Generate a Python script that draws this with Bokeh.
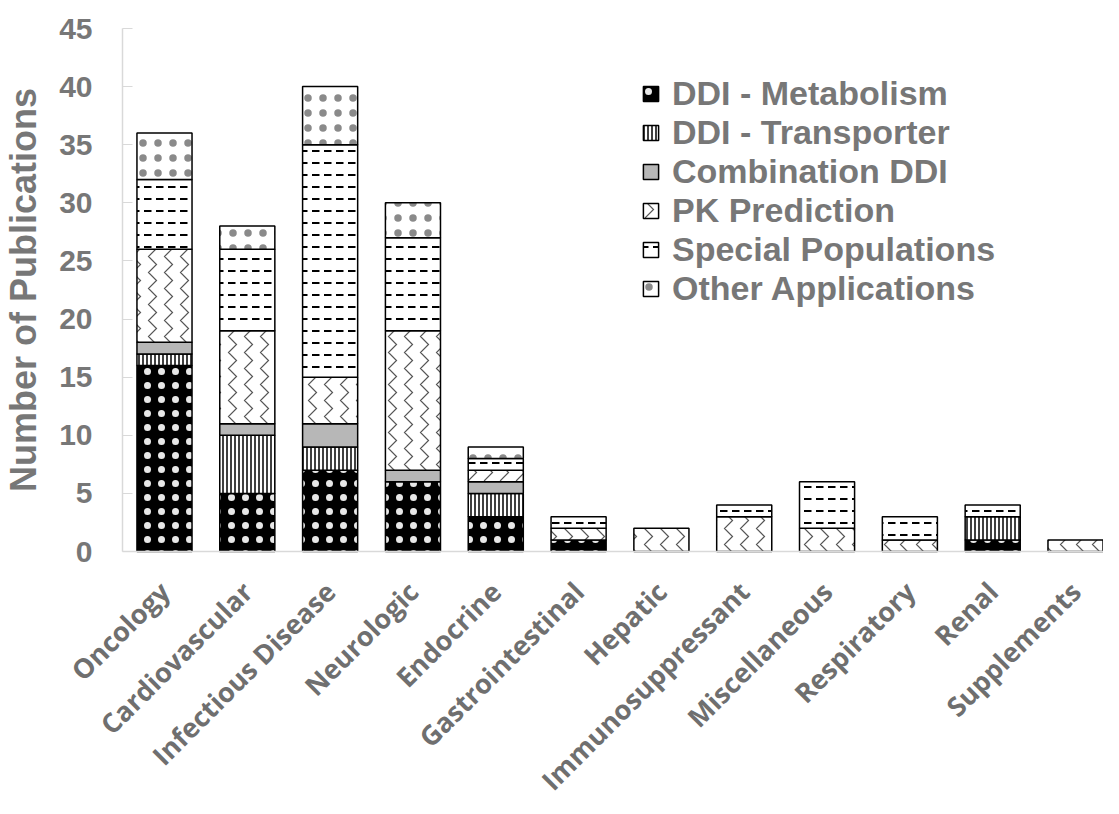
import math
import numpy as np
from bokeh.plotting import figure
from bokeh.models import ColumnDataSource, Legend, LegendItem, FixedTicker, Range1d
from bokeh.embed import file_html
from bokeh.resources import INLINE

categories = ["Oncology", "Cardiovascular", "Infectious Disease", "Neurologic", "Endocrine",
              "Gastrointestinal", "Hepatic", "Immunosuppressant", "Miscellaneous",
              "Respiratory", "Renal", "Supplements"]
series_names = ["DDI - Metabolism", "DDI - Transporter", "Combination DDI",
                "PK Prediction", "Special Populations", "Other Applications"]
ddi_metabolism = [16, 5, 7, 6, 3, 1, 0, 0, 0, 0, 1, 0]
ddi_transporter = [1, 5, 2, 0, 2, 0, 0, 0, 0, 0, 2, 0]
combination_ddi = [1, 1, 2, 1, 1, 0, 0, 0, 0, 0, 0, 0]
pk_prediction = [8, 8, 4, 12, 1, 1, 2, 3, 2, 1, 0, 1]
special_populations = [6, 7, 20, 8, 1, 1, 0, 1, 4, 2, 1, 0]
other_applications = [4, 2, 5, 3, 1, 0, 0, 0, 0, 0, 0, 0]
y_ticks = [0, 5, 10, 15, 20, 25, 30, 35, 40, 45]

series = [ddi_metabolism, ddi_transporter, combination_ddi, pk_prediction,
          special_populations, other_applications]

styles = [
    dict(fill_color="black", hatch_pattern=".", hatch_color="#e8e8e8", hatch_scale=14, hatch_weight=0.8),
    dict(fill_color="white", hatch_pattern="|", hatch_color="black", hatch_scale=4, hatch_weight=1.5),
    dict(fill_color="#b7b7b7"),
    dict(fill_color="white", hatch_pattern=">", hatch_color="#555555", hatch_scale=16, hatch_weight=1.2),
    dict(fill_color="white", hatch_pattern='"', hatch_color="black", hatch_scale=12, hatch_weight=2),
    dict(fill_color="white", hatch_pattern=".", hatch_color="#8a8a8a", hatch_scale=15, hatch_weight=0.7),
]

TXT = "#777777"

# Layout: the frame fills the whole canvas; both axes are pinned inside it so that
# the rotated category labels and the y-axis texts are not clipped.
W, H = 1103, 798
left_px, top_px, zero_px = 122, 28, 551       # pixel positions of x-start, value 45, value 0
x_lo, x_hi = -0.507, 11.338                     # data span of the visible bar area
ppu_y = (zero_px - top_px) / 45.0
ppu_x = (W - left_px) / (x_hi - x_lo)
x_start = x_lo - left_px / ppu_x
y_end = 45 + top_px / ppu_y
y_start = -(H - zero_px) / ppu_y

p = figure(width=W, height=H, output_backend="svg", toolbar_location=None,
           x_range=Range1d(x_start, x_hi), y_range=Range1d(y_start, y_end),
           min_border_left=0, min_border_right=0, min_border_top=0, min_border_bottom=0)
p.outline_line_color = None
p.xgrid.visible = False
p.ygrid.visible = False

x = np.arange(len(categories))
bottom = np.zeros(len(categories))
items = []
for name, vals, st in zip(series_names, series, styles):
    vals = np.array(vals, dtype=float)
    top = bottom + vals
    mask = vals > 0
    src = ColumnDataSource(dict(x=x[mask], bottom=bottom[mask], top=top[mask]))
    r = p.vbar(x="x", bottom="bottom", top="top", width=0.665, source=src,
               line_color="black", line_width=1.5, **st)
    items.append(LegendItem(label=name, renderers=[r]))
    bottom = top

legend = Legend(items=items, location=(641, H - 308), border_line_color=None,
                background_fill_alpha=0, padding=0, margin=0, spacing=0,
                glyph_width=19, glyph_height=19, label_height=38, label_standoff=12,
                label_text_font="Liberation Sans", label_text_font_style="bold",
                label_text_font_size="34px", label_text_color=TXT)
p.add_layout(legend, "center")

# y axis
ya = p.yaxis[0]
ya.fixed_location = x_lo
ya.bounds = (0, 45)
ya.ticker = FixedTicker(ticks=y_ticks)
ya.minor_tick_line_color = None
ya.major_tick_in = 10
ya.major_tick_out = 0
ya.major_tick_line_color = "#d9d9d9"
ya.axis_line_color = "#d9d9d9"
ya.axis_line_width = 1.5
ya.major_label_text_font = "Liberation Sans"
ya.major_label_text_font_style = "bold"
ya.major_label_text_font_size = "30px"
ya.major_label_text_color = TXT
ya.major_label_standoff = 30
ya.axis_label = "Number of Publications"
ya.axis_label_text_font = "Liberation Sans"
ya.axis_label_text_font_style = "bold"
ya.axis_label_text_font_size = "36px"
ya.axis_label_text_color = TXT
ya.axis_label_standoff = 12

# x axis
xa = p.xaxis[0]
xa.fixed_location = 0
xa.bounds = (x_lo, x_hi)
xa.ticker = FixedTicker(ticks=list(range(len(categories))))
xa.major_label_overrides = {i: c for i, c in enumerate(categories)}
xa.major_label_orientation = math.pi / 4
xa.minor_tick_line_color = None
xa.major_tick_line_color = None
xa.axis_line_color = "#d9d9d9"
xa.axis_line_width = 1.5
xa.major_label_text_font = "Open Sans"
xa.major_label_text_font_style = "bold"
xa.major_label_text_font_size = "27px"
xa.major_label_text_color = "#6f6f6f"
xa.major_label_standoff = 29

open("out.html", "w").write(file_html(p, INLINE))
